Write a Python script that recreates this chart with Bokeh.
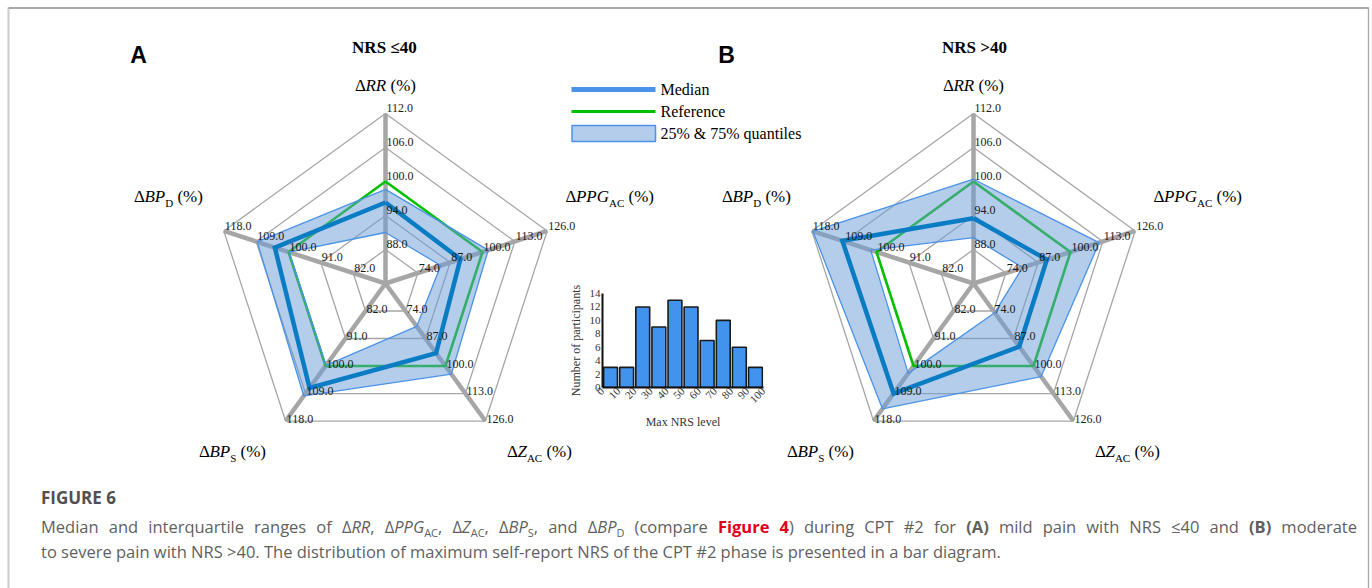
import math
from bokeh.plotting import figure
from bokeh.models import Range1d, Div, GridBox, FixedTicker, Column
from bokeh.embed import file_html
from bokeh.resources import INLINE
from bokeh.core.properties import value

# ---------------- data ----------------
AXES = ["RR", "PPG_AC", "Z_AC", "BP_S", "BP_D"]
RR_TICKS = [88.0, 94.0, 100.0, 106.0, 112.0]
PPG_TICKS = [74.0, 87.0, 100.0, 113.0, 126.0]
Z_TICKS = [74.0, 87.0, 100.0, 113.0, 126.0]
BPS_TICKS = [82.0, 91.0, 100.0, 109.0, 118.0]
BPD_TICKS = [82.0, 91.0, 100.0, 109.0, 118.0]

REFERENCE = [100.0, 100.0, 100.0, 100.0, 100.0]
MEDIAN_A = [96.3, 91.1, 93.9, 107.2, 103.8]
Q25_A = [91.0, 83.2, 81.3, 99.8, 99.8]
Q75_A = [98.6, 102.3, 103.8, 109.8, 108.7]
MEDIAN_B = [93.5, 90.5, 90.8, 109.0, 109.5]
Q25_B = [90.1, 80.7, 74.8, 102.4, 101.6]
Q75_B = [100.4, 111.5, 105.0, 114.0, 117.7]

NRS_EDGES = [0, 10, 20, 30, 40, 50, 60, 70, 80, 90, 100]
NRS_COUNTS = [3, 3, 12, 9, 13, 12, 7, 10, 6, 3]
COUNT_TICKS = [0, 2, 4, 6, 8, 10, 12, 14]

LEGEND_LABELS = ["Median", "Reference", "25% & 75% quantiles"]

# ---------------- styling ----------------
W, H = 1372, 588
SERIF = "Liberation Serif"
RING = 34.0
TICKS = [RR_TICKS, PPG_TICKS, Z_TICKS, BPS_TICKS, BPD_TICKS]
GRID_C = "#a6a6a6"
MED_C = "#0a7cc4"
LEG_MED_C = "#4a93e8"
REF_C = "#00c000"
EDGE_C = "#4a93e8"
FILL_C = "#699bd5"

p = figure(width=W, height=H, x_range=Range1d(0, W), y_range=Range1d(H, 0),
           output_backend="svg", toolbar_location=None, min_border=0,
           x_axis_location=None, y_axis_location=None)
p.grid.visible = False
p.outline_line_color = None
p.background_fill_color = "white"
p.border_fill_color = "white"

# frame of the figure box
p.line([8, 8], [600, 7], line_color="#cfcfcf", line_width=2.2)
p.line([8, 1368], [7.5, 7.5], line_color="#a8a8a8", line_width=2)
p.line([1368, 1368], [7, 600], line_color="#a8a8a8", line_width=1.3)


def step(k):
    return TICKS[k][1] - TICKS[k][0]


def pt(cx, cy, k, v):
    c0 = TICKS[k][0] - step(k)
    r = (v - c0) / step(k) * RING
    th = math.radians(90 - 72 * k)
    return cx + r * math.cos(th), cy - r * math.sin(th)


def poly(cx, cy, vals, close=True):
    xs, ys = [], []
    for k, v in enumerate(vals):
        x, y = pt(cx, cy, k, v)
        xs.append(x)
        ys.append(y)
    if close:
        xs.append(xs[0])
        ys.append(ys[0])
    return xs, ys


W_REG = {'Δ': 0.612, ' ': 0.25, '(': 0.333, ')': 0.333, '%': 0.833,
         'A': 0.722, 'C': 0.667, 'D': 0.722, 'S': 0.556}
W_IT = {'R': 0.611, 'P': 0.611, 'G': 0.722, 'B': 0.611, 'Z': 0.556}


def rich(parts, x, ymid, size=17, sub_size=11, sub_drop=7, align="center"):
    widths = []
    for t, it, sub in parts:
        tbl = W_IT if it else W_REG
        s = sub_size if sub else size
        widths.append(sum(tbl.get(c, 0.5) for c in t) * s)
    total = sum(widths)
    x0 = x - total / 2 if align == "center" else x
    base = ymid + 0.33 * size - 5
    cur = x0
    for (t, it, sub), w in zip(parts, widths):
        s = sub_size if sub else size
        lead = len(t) - len(t.lstrip(" "))
        tt = t.lstrip(" ")
        p.text(x=[cur + lead * W_REG[' '] * s], y=[base + (sub_drop if sub else 0)], text=[tt],
               text_font=value(SERIF), text_font_size=f"{s}px",
               text_font_style="italic" if it else "normal",
               text_align="left", text_baseline="alphabetic", text_color="#000000")
        cur += w


TITLE_PARTS = [
    [("Δ", False, False), ("RR", True, False), (" (%)", False, False)],
    [("Δ", False, False), ("PPG", True, False), ("AC", False, True), (" (%)", False, False)],
    [("Δ", False, False), ("Z", True, False), ("AC", False, True), (" (%)", False, False)],
    [("Δ", False, False), ("BP", True, False), ("S", False, True), (" (%)", False, False)],
    [("Δ", False, False), ("BP", True, False), ("D", False, True), (" (%)", False, False)],
]
LABEL_DY = [-6, -5, -2.5, -2.5, -5]


def radar(cx, cy, med, q25, q75, panel, title):
    # rings
    for j in range(5):
        xs, ys = poly(cx, cy, [TICKS[k][j] for k in range(5)])
        p.line(xs, ys, line_color=GRID_C, line_width=1.3)
    # spokes
    for k in range(5):
        x1, y1 = pt(cx, cy, k, TICKS[k][-1])
        x0, y0 = pt(cx, cy, k, TICKS[k][0] - step(k))
        p.line([x0, x1], [y0, y1], line_color=GRID_C, line_width=4.5)
    # reference
    xs, ys = poly(cx, cy, REFERENCE)
    p.line(xs, ys, line_color=REF_C, line_width=2.6)
    # quantile band
    ox, oy = poly(cx, cy, q75)
    ix, iy = poly(cx, cy, q25)
    p.multi_polygons(xs=[[[ox[:-1], ix[:-1]]]], ys=[[[oy[:-1], iy[:-1]]]],
                     fill_color=FILL_C, fill_alpha=0.5, line_color=None)
    p.line(ox, oy, line_color=EDGE_C, line_width=1.3)
    p.line(ix, iy, line_color=EDGE_C, line_width=1.3)
    # median
    mx, my = poly(cx, cy, med)
    p.line(mx, my, line_color=MED_C, line_width=4.5, line_join="miter")
    # ring labels
    lx, ly, lt = [], [], []
    for k in range(5):
        for j in range(5):
            x, y = pt(cx, cy, k, TICKS[k][j])
            lx.append(x + 1)
            ly.append(y + LABEL_DY[k])
            lt.append(f"{TICKS[k][j]:.1f}")
    p.text(x=lx, y=ly, text=lt, text_font=value(SERIF), text_font_size="12px",
           text_align="left", text_baseline="middle", text_color="#1a1a1a")
    # axis titles
    rich(TITLE_PARTS[0], cx, cy - 199)
    rich(TITLE_PARTS[1], cx + 180, cy - 88, align="left")
    rich(TITLE_PARTS[2], cx + 154, cy + 167)
    rich(TITLE_PARTS[3], cx - 153, cy + 167)
    rich(TITLE_PARTS[4], cx - 217, cy - 88)
    # panel letter and title
    p.text(x=[cx - 247], y=[54], text=[panel], text_font=value("Liberation Sans"),
           text_font_size="23px", text_font_style="bold", text_align="center",
           text_baseline="middle", text_color="#000000")
    p.text(x=[cx + 1], y=[47], text=[title], text_font=value(SERIF),
           text_font_size="17px", text_font_style="bold", text_align="center",
           text_baseline="middle", text_color="#000000")


radar(385, 283, MEDIAN_A, Q25_A, Q75_A, "A", "NRS  ≤40")
radar(973, 283, MEDIAN_B, Q25_B, Q75_B, "B", "NRS >40")

# legend
p.line([571, 655], [89, 89], line_color=LEG_MED_C, line_width=5)
p.line([571, 655], [111, 111], line_color=REF_C, line_width=3)
p.quad(left=[571.5], right=[655], top=[125], bottom=[141], fill_color="#b4cdea",
       line_color=EDGE_C, line_width=1.5)
p.text(x=[660, 660, 660], y=[89, 111, 133], text=LEGEND_LABELS, text_font=value(SERIF),
       text_font_size="16px", text_align="left", text_baseline="middle", text_color="#000000")

# ---------------- histogram inset ----------------
FL, FR, FT, FB = 602, 763, 293, 387
h = figure(width=W, height=H, x_range=Range1d(NRS_EDGES[0], NRS_EDGES[-1]),
           y_range=Range1d(COUNT_TICKS[0], COUNT_TICKS[-1]),
           output_backend="svg", toolbar_location=None,
           min_border_left=FL, min_border_right=W - FR, min_border_top=FT,
           min_border_bottom=H - FB)
h.background_fill_color = None
h.border_fill_color = None
h.outline_line_color = None
h.grid.visible = False
centers = [(NRS_EDGES[i] + NRS_EDGES[i + 1]) / 2 for i in range(len(NRS_COUNTS))]
h.vbar(x=centers, top=NRS_COUNTS, width=8.6, bottom=0, fill_color="#4293ee",
       line_color="#1b1b1b", line_width=1.6)
h.xaxis.ticker = FixedTicker(ticks=NRS_EDGES)
h.yaxis.ticker = FixedTicker(ticks=COUNT_TICKS)
h.xaxis.major_label_orientation = math.pi / 4
for ax in (h.xaxis[0], h.yaxis[0]):
    ax.axis_line_color = "#111111"
    ax.axis_line_width = 2
    ax.major_tick_in = 0
    ax.major_tick_out = 0
    ax.minor_tick_in = 0
    ax.minor_tick_out = 0
    ax.major_label_text_font = SERIF
    ax.major_label_text_font_size = "11px"
    ax.major_label_text_color = "#333333"
    ax.axis_label_text_font = SERIF
    ax.axis_label_text_font_size = "12px"
    ax.axis_label_text_font_style = "normal"
    ax.axis_label_text_color = "#333333"
h.xaxis.axis_label = "Max NRS level"
h.yaxis.axis_label = "Number of participants"
h.xaxis.major_label_standoff = 2
h.yaxis.major_label_standoff = 2
h.xaxis.axis_label_standoff = 6
h.yaxis.axis_label_standoff = 4

# ---------------- caption ----------------
SUB = '<sub style="font-size:11px;vertical-align:baseline;position:relative;top:4px;line-height:0">'
cap_html = (
    '<div style="font-family:\'Open Sans\',sans-serif;font-size:16.5px;color:#5f5f5f;'
    'line-height:25px;width:1316px;">'
    '<div style="font-weight:700;color:#505050;margin-bottom:4px;font-size:17px;">FIGURE 6</div>'
    '<div style="text-align:justify;text-align-last:justify;white-space:nowrap;">'
    'Median and interquartile ranges of Δ<i>RR</i>, Δ<i>PPG</i>' + SUB + 'AC</sub>, '
    'Δ<i>Z</i>' + SUB + 'AC</sub>, Δ<i>BP</i>' + SUB + 'S</sub>, and '
    'Δ<i>BP</i>' + SUB + 'D</sub> (compare '
    '<b style="color:#e3001b">Figure 4</b>) during CPT #2 for <b>(A)</b> mild pain with NRS ≤40 and '
    '<b>(B)</b> moderate</div>'
    '<div style="white-space:nowrap;">to severe pain with NRS &gt;40. The distribution of maximum self-report NRS '
    'of the CPT #2 phase is presented in a bar diagram.</div></div>'
)
cap = Div(text=cap_html, width=1320, height=90, margin=(485, 0, 0, 41))

root = GridBox(children=[(Column(children=[p]), 0, 0), (Column(children=[h]), 0, 0), (cap, 0, 0)])
open("out.html", "w").write(file_html(root, INLINE))
